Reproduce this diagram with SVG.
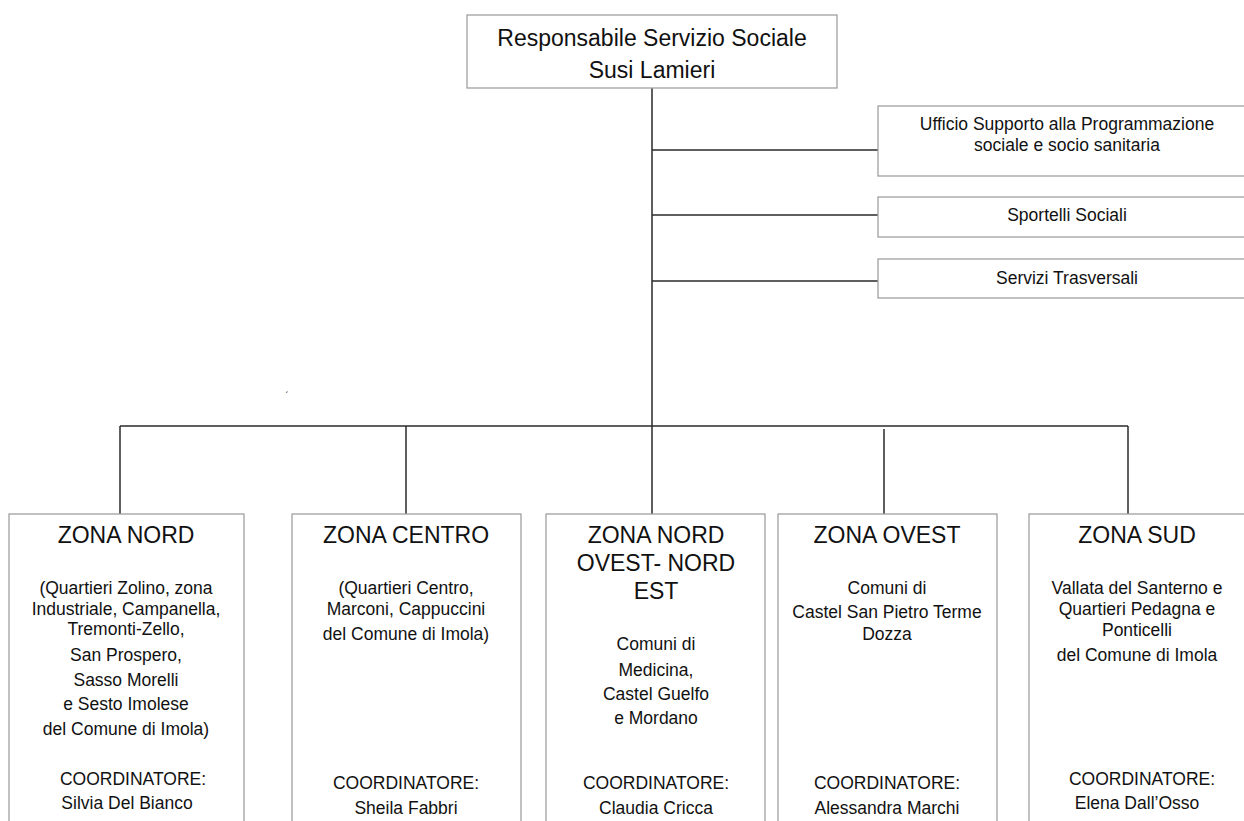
<svg xmlns="http://www.w3.org/2000/svg" width="1244" height="821" viewBox="0 0 1244 821">
<style>
.box{fill:#fff;stroke:#a0a0a0;stroke-width:1.3}
.ln{stroke:#2a2a2a;stroke-width:1.5;fill:none}
text{font-family:"Liberation Sans",Arial,sans-serif;fill:#111;text-anchor:middle}
.t1{font-size:23px}
.t2{font-size:17.5px}
.tz{font-size:23px}
.tb{font-size:17.5px}
</style>
<rect width="1244" height="821" fill="#fff"/>
<g id="connectors">
<line class="ln" x1="652" y1="88" x2="652" y2="514"/>
<line class="ln" x1="652" y1="150" x2="878" y2="150"/>
<line class="ln" x1="652" y1="215" x2="878" y2="215"/>
<line class="ln" x1="652" y1="281" x2="878" y2="281"/>
<line class="ln" x1="120" y1="426" x2="1128" y2="426"/>
<line class="ln" x1="120" y1="426" x2="120" y2="520"/>
<line class="ln" x1="406" y1="426" x2="406" y2="520"/>
<line class="ln" x1="884" y1="429" x2="884" y2="517"/>
<line class="ln" x1="1128" y1="426" x2="1128" y2="518"/>
</g>
<text x="287" y="398" style="font-size:9px">´</text>
<g id="responsabile">
<rect class="box" x="467" y="15" width="370" height="73"/>
<text class="t1" x="652" y="46">Responsabile Servizio Sociale</text>
<text class="t1" x="652" y="78">Susi Lamieri</text>
</g>
<g id="ufficio">
<rect class="box" x="878" y="106" width="380" height="70"/>
<text class="t2" x="1067" y="130">Ufficio Supporto alla Programmazione</text>
<text class="t2" x="1067" y="151">sociale e socio sanitaria</text>
</g>
<g id="sportelli">
<rect class="box" x="878" y="197" width="380" height="40"/>
<text class="t2" x="1067" y="221">Sportelli Sociali</text>
</g>
<g id="trasversali">
<rect class="box" x="878" y="259" width="380" height="39"/>
<text class="t2" x="1067" y="284">Servizi Trasversali</text>
</g>
<g id="zona-nord">
<rect class="box" x="9" y="514" width="235" height="320"/>
<text class="tz" x="126" y="543">ZONA NORD</text>
<text class="tb" x="126" y="594">(Quartieri Zolino, zona</text>
<text class="tb" x="126" y="615">Industriale, Campanella,</text>
<text class="tb" x="126" y="635">Tremonti-Zello,</text>
<text class="tb" x="126" y="661">San Prospero,</text>
<text class="tb" x="126" y="686">Sasso Morelli</text>
<text class="tb" x="126" y="710">e Sesto Imolese</text>
<text class="tb" x="126" y="735">del Comune di Imola)</text>
<text class="tb" x="133" y="785">COORDINATORE:</text>
<text class="tb" x="127" y="809">Silvia Del Bianco</text>
</g>
<g id="zona-centro">
<rect class="box" x="292" y="514" width="229" height="320"/>
<text class="tz" x="406" y="543">ZONA CENTRO</text>
<text class="tb" x="406" y="594">(Quartieri Centro,</text>
<text class="tb" x="406" y="615">Marconi, Cappuccini</text>
<text class="tb" x="406" y="640">del Comune di Imola)</text>
<text class="tb" x="406" y="789">COORDINATORE:</text>
<text class="tb" x="406" y="814">Sheila Fabbri</text>
</g>
<g id="zona-nord-ovest">
<rect class="box" x="546" y="514" width="219" height="320"/>
<text class="tz" x="656" y="543">ZONA NORD</text>
<text class="tz" x="656" y="571">OVEST- NORD</text>
<text class="tz" x="656" y="599">EST</text>
<text class="tb" x="656" y="650">Comuni di</text>
<text class="tb" x="656" y="676">Medicina,</text>
<text class="tb" x="656" y="700">Castel Guelfo</text>
<text class="tb" x="656" y="724">e Mordano</text>
<text class="tb" x="656" y="789">COORDINATORE:</text>
<text class="tb" x="656" y="814">Claudia Cricca</text>
</g>
<g id="zona-ovest">
<rect class="box" x="778" y="514" width="219" height="320"/>
<text class="tz" x="887" y="543">ZONA OVEST</text>
<text class="tb" x="887" y="594">Comuni di</text>
<text class="tb" x="887" y="618">Castel San Pietro Terme</text>
<text class="tb" x="887" y="640">Dozza</text>
<text class="tb" x="887" y="789">COORDINATORE:</text>
<text class="tb" x="887" y="814">Alessandra Marchi</text>
</g>
<g id="zona-sud">
<rect class="box" x="1029" y="514" width="230" height="320"/>
<text class="tz" x="1137" y="543">ZONA SUD</text>
<text class="tb" x="1137" y="594">Vallata del Santerno e</text>
<text class="tb" x="1137" y="615">Quartieri Pedagna e</text>
<text class="tb" x="1137" y="636">Ponticelli</text>
<text class="tb" x="1137" y="661">del Comune di Imola</text>
<text class="tb" x="1142" y="785">COORDINATORE:</text>
<text class="tb" x="1137" y="809">Elena Dall’Osso</text>
</g>
</svg>
